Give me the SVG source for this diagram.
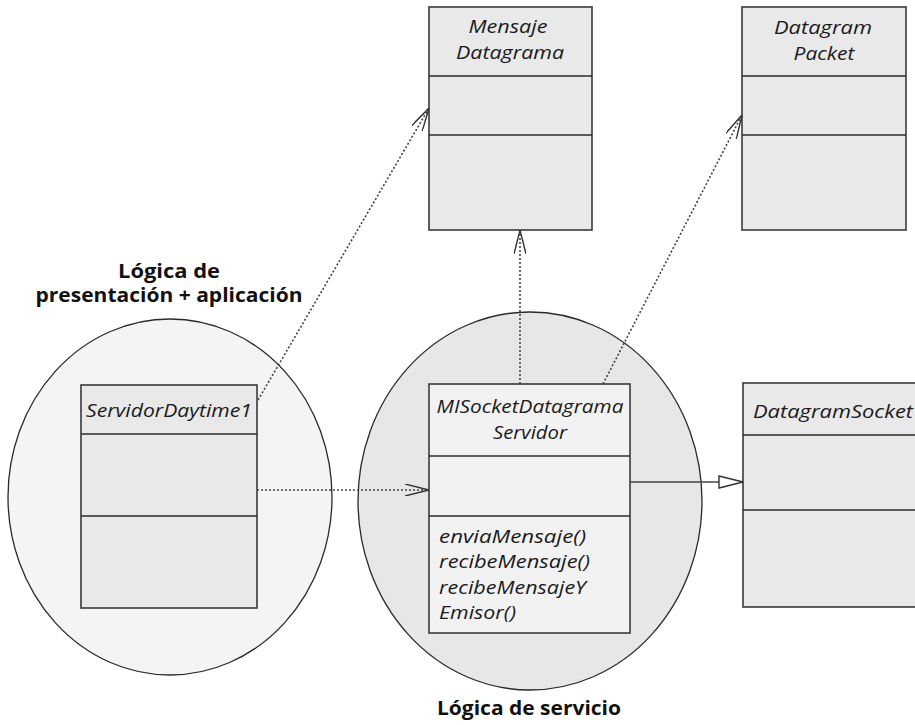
<svg xmlns="http://www.w3.org/2000/svg" width="915" height="725" viewBox="0 0 915 725">
  <style>
    .zone { stroke: #2a2a2a; stroke-width: 1.3; }
    .box { fill: #e9e9e9; stroke: #3a3a3a; stroke-width: 1.6; }
    .box-light { fill: #f2f2f2; stroke: #3a3a3a; stroke-width: 1.6; }
    .sep { stroke: #2a2a2a; stroke-width: 1.6; }
    .cls { font-family: "Open Sans", "Noto Sans", "Liberation Sans", sans-serif; font-style: italic; font-size: 19px; fill: #1a1a1a; }
    .lbl { font-family: "Open Sans", "Noto Sans", "Liberation Sans", sans-serif; font-weight: bold; font-size: 19px; fill: #111; }
    .dep { fill: none; stroke: #444; stroke-width: 1.6; stroke-dasharray: 2 2; }
    .solid { fill: none; stroke: #444; stroke-width: 1.4; }
    .head { fill: none; stroke: #333; stroke-width: 1.4; }
  </style>
  <defs>
    <marker id="open" viewBox="0 0 24 12" refX="24" refY="6" markerWidth="24" markerHeight="12" markerUnits="userSpaceOnUse" orient="auto">
      <path d="M0,0 L24,6 L0,12" fill="none" stroke="#333" stroke-width="1.4"/>
    </marker>
  </defs>

  <rect width="915" height="725" fill="#ffffff"/>

  <!-- layer zones -->
  <g id="zone-presentacion">
    <ellipse class="zone" cx="170" cy="497" rx="162" ry="178" fill="#f4f4f4"/>
    <text class="lbl" x="169" y="278" text-anchor="middle" textLength="102" lengthAdjust="spacingAndGlyphs">Lógica de</text>
    <text class="lbl" x="169" y="302" text-anchor="middle" textLength="267" lengthAdjust="spacingAndGlyphs">presentación + aplicación</text>
  </g>
  <g id="zone-servicio">
    <ellipse class="zone" cx="530" cy="501" rx="172" ry="189" fill="#e7e7e7"/>
    <text class="lbl" x="529" y="715" text-anchor="middle" textLength="184" lengthAdjust="spacingAndGlyphs">Lógica de servicio</text>
  </g>

  <!-- classes -->
  <g id="mensaje-datagrama">
    <rect class="box" x="429" y="7" width="163" height="223"/>
    <line class="sep" x1="429" y1="76" x2="592" y2="76"/>
    <line class="sep" x1="429" y1="135" x2="592" y2="135"/>
    <text class="cls" x="508" y="33" text-anchor="middle" textLength="79" lengthAdjust="spacingAndGlyphs">Mensaje</text>
    <text class="cls" x="510" y="59" text-anchor="middle" textLength="108" lengthAdjust="spacingAndGlyphs">Datagrama</text>
  </g>
  <g id="datagram-packet">
    <rect class="box" x="742" y="7" width="164" height="223"/>
    <line class="sep" x1="742" y1="76" x2="906" y2="76"/>
    <line class="sep" x1="742" y1="135" x2="906" y2="135"/>
    <text class="cls" x="823" y="34" text-anchor="middle" textLength="98" lengthAdjust="spacingAndGlyphs">Datagram</text>
    <text class="cls" x="824" y="60" text-anchor="middle" textLength="61" lengthAdjust="spacingAndGlyphs">Packet</text>
  </g>
  <g id="servidor-daytime1">
    <rect class="box" x="81" y="385" width="176" height="223"/>
    <line class="sep" x1="81" y1="434" x2="257" y2="434"/>
    <line class="sep" x1="81" y1="516" x2="257" y2="516"/>
    <text class="cls" x="169" y="417" text-anchor="middle" textLength="166" lengthAdjust="spacingAndGlyphs">ServidorDaytime1</text>
  </g>
  <g id="mi-socket-datagrama-servidor">
    <rect class="box-light" x="429" y="384" width="201" height="249"/>
    <line class="sep" x1="429" y1="456" x2="630" y2="456"/>
    <line class="sep" x1="429" y1="516" x2="630" y2="516"/>
    <text class="cls" x="530" y="413" text-anchor="middle" textLength="187" lengthAdjust="spacingAndGlyphs">MISocketDatagrama</text>
    <text class="cls" x="530" y="439" text-anchor="middle" textLength="74" lengthAdjust="spacingAndGlyphs">Servidor</text>
    <text class="cls" x="439" y="543" textLength="147" lengthAdjust="spacingAndGlyphs">enviaMensaje()</text>
    <text class="cls" x="439" y="568" textLength="151" lengthAdjust="spacingAndGlyphs">recibeMensaje()</text>
    <text class="cls" x="439" y="594" textLength="147" lengthAdjust="spacingAndGlyphs">recibeMensajeY</text>
    <text class="cls" x="439" y="619" textLength="77" lengthAdjust="spacingAndGlyphs">Emisor()</text>
  </g>
  <g id="datagram-socket">
    <rect class="box" x="743" y="383" width="190" height="224"/>
    <line class="sep" x1="743" y1="435" x2="933" y2="435"/>
    <line class="sep" x1="743" y1="510" x2="933" y2="510"/>
    <text class="cls" x="753" y="418" textLength="160" lengthAdjust="spacingAndGlyphs">DatagramSocket</text>
  </g>

  <!-- connectors -->
  <g id="connectors">
    <line class="dep" x1="258" y1="400" x2="429" y2="108" marker-end="url(#open)"/>
    <line class="dep" x1="520" y1="384" x2="520" y2="230" marker-end="url(#open)"/>
    <line class="dep" x1="603" y1="384" x2="742" y2="115" marker-end="url(#open)"/>
    <line class="dep" x1="257" y1="490" x2="429" y2="490" marker-end="url(#open)"/>
    <line class="solid" x1="630" y1="482" x2="719" y2="482"/>
    <path class="head" d="M719,476 L743,482 L719,488 Z" fill="#ffffff"/>
  </g>
</svg>
